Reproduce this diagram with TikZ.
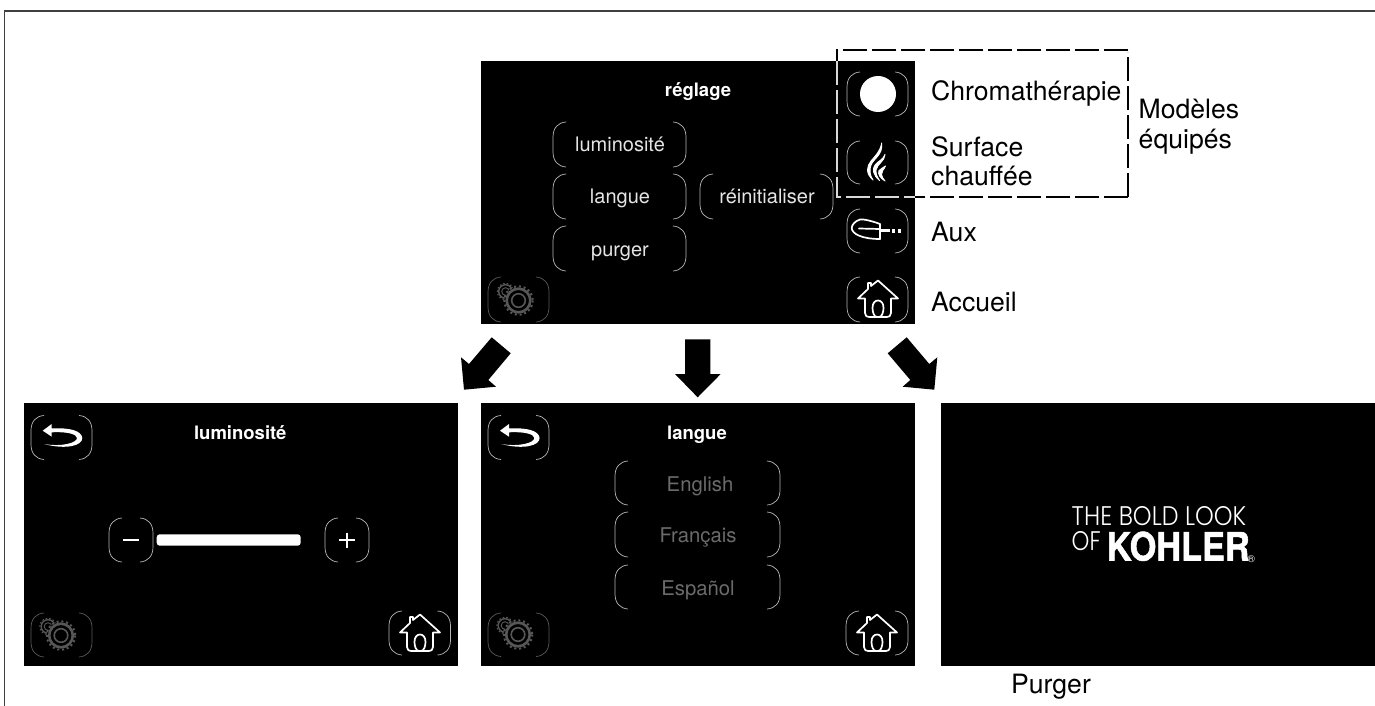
\documentclass[tikz,border=0pt]{standalone}
\usepackage{fontspec}
\setmainfont{TeX Gyre Heros}
\newfontfamily\thinf{Poppins Light}
\tikzset{
  panel/.style={fill=black,draw=none},
  lbl/.style={inner sep=0pt,anchor=base west,font=\fontsize{26.6}{30}\selectfont,text=black},
  ttl/.style={inner sep=0pt,anchor=base,text=white,font=\fontsize{18.5}{22}\selectfont\bfseries},
  btxt/.style={inner sep=0pt,anchor=base,text=white!90!black,font=\fontsize{20}{24}\selectfont},
  gtxt/.style={inner sep=0pt,anchor=base,text=white!42!black,font=\fontsize{20.3}{24}\selectfont},
  bigarrow/.style={fill=black,draw=none},
  icon/.style={draw=white,line width=1.7pt,line join=round,line cap=round},
  dashk/.style={line width=2.2pt,black,dash pattern=on 24pt off 5pt},
  dashw/.style={line width=1.2pt,white!85!black,dash pattern=on 24pt off 5pt},
  logo/.style={inner sep=0pt,anchor=base west,text=white},
}
\newcommand{\brk}[5][white!72!black]{%
  \draw[#1,line width=.7pt] (#2+13,#3) .. controls (#2+5,#3+.5) and (#2,#3+6) .. (#2,#3+15) -- (#2,#5-15) .. controls (#2,#5-6) and (#2+5,#5-.5) .. (#2+13,#5);
  \draw[#1,line width=.7pt] (#4-13,#3) .. controls (#4-5,#3+.5) and (#4,#3+6) .. (#4,#3+15) -- (#4,#5-15) .. controls (#4,#5-6) and (#4-5,#5-.5) .. (#4-13,#5);
}
\newcommand{\house}[2]{%
  \begin{scope}[shift={(#1,#2)}]
  \draw[icon] (-7,-14) -- (-7,-17) -- (-10,-17) -- (-10,-11) -- (-20,-1.5) -- (-13,-1.5) -- (-13,13) .. controls (-13,16) and (-11,17) .. (-9,17) -- (1,17) .. controls (4,17) and (5.5,12) .. (5.5,8) .. controls (5.5,3) and (3,.5) .. (0,.5) .. controls (-3,.5) and (-5.5,3) .. (-5.5,8) .. controls (-5.5,12) and (-4,17) .. (-1,17) -- (9,17) .. controls (11,17) and (13,16) .. (13,13) -- (13,-1.5) -- (20,-1.5) -- (0,-19.5) -- (-7,-14);
  \end{scope}}
\newcommand{\gear}[2]{%
  \begin{scope}[shift={(#1,#2)}]
  \draw[white!34!black,line width=1.4pt] (-13,-9) circle (6.8);
  \draw[white!34!black,line width=1pt,dash pattern=on 1.6pt off 2pt] (-13,-9) circle (8.2);
  \draw[white!34!black,line width=.9pt] (-13,-9) circle (3.8);
  \fill[black] (0,0) circle (14);
  \draw[white!34!black,line width=2pt,dash pattern=on 2pt off 2.8pt] (0,0) circle (14.2);
  \draw[white!34!black,line width=2.6pt] (0,0) circle (11.8);
  \draw[white!34!black,line width=1.6pt] (0,0) circle (6.8);
  \end{scope}}
\newcommand{\backarrow}[2]{%
  \begin{scope}[shift={(#1,#2)}]
  \fill[white] (-18.8,-6.8) -- (-9.8,-13.5) -- (-9.8,-9) .. controls (8,-10) and (20,-7) .. (20.8,.5) .. controls (21,8) and (5,12.5) .. (-17.5,6.5) .. controls (0,9.5) and (15.5,5.5) .. (15.5,.5) .. controls (15.5,-3.5) and (5,-6) .. (-9.8,-5.2) -- (-9.8,-.8) -- cycle;
  \end{scope}}
\begin{document}
\begin{tikzpicture}[x=1pt,y=-1pt]
\useasboundingbox (0,0) rectangle (1375,706);
\fill[white] (0,0) rectangle (1375,706);
\draw[line width=1.7pt,black!75] (4.5,706) -- (4.5,11) -- (1375,11);
% panels
\fill[panel] (481,61) rectangle (915,324);
\fill[panel] (24,403) rectangle (458,665.5);
\fill[panel] (481,403) rectangle (915,665.5);
\fill[panel] (941,403) rectangle (1375,665.5);
% top panel
\node[ttl] (t1) at (698,97) {réglage};
\brk{553}{122}{686}{167}
\brk{553}{174}{686}{219}
\brk{553}{226}{686}{271}
\brk{700}{174}{833}{219}
\node[btxt] (b1) at (620,151.5) {luminosité};
\node[btxt] (b2) at (620,203) {langue};
\node[btxt] (b3) at (620,256) {purger};
\node[btxt] (b4) at (767,203) {réinitialiser};
\brk{847}{72}{908}{116}
\brk{847}{141}{908}{184}
\brk{847}{209}{908}{253}
\brk{847}{277}{908}{322}
\brk[white!35!black]{488}{277}{549}{322}
\fill[white] (878,94) circle (18);
% flame
\begin{scope}[shift={(878,164)},line join=round]
\filldraw[white,line width=.9pt] (3.7,-21) .. controls (5,-9) and (-4,-6) .. (-7,1) .. controls (-9,6) and (-8,12) .. (-5,16) .. controls (-13,9) and (-11,2) .. (-7,-3) .. controls (-3,-8) and (2,-12) .. (3.7,-21) -- cycle;
\filldraw[white,line width=.9pt] (7,-9.5) .. controls (7,-3) and (-1,0) .. (-2,6) .. controls (-2.5,10) and (-.5,13) .. (1.5,16.5) .. controls (-5,11) and (-6,5) .. (-3,1) .. controls (0,-3) and (5,-4) .. (7,-9.5) -- cycle;
\filldraw[white,line width=.9pt] (7.5,2) .. controls (6,6) and (3,7) .. (3.5,10.5) .. controls (4,13) and (5,15) .. (7,17) .. controls (2,14) and (-.5,10) .. (1,6.5) .. controls (2.5,4) and (6,4) .. (7.5,2) -- cycle;
\end{scope}
% aux
\draw[icon] (880,224) .. controls (872,221) and (864,219) .. (860,219.5) .. controls (855,221) and (851.7,225) .. (851.7,228) .. controls (852,234) and (862,239) .. (880,239) -- cycle (859,228.5) -- (880,229);
\fill[white] (880,229.2) rectangle (890,232.2);
\fill[white] (891.5,229) rectangle (895,232.5);
\fill[white] (897.5,229) rectangle (901,232.5);
\house{878}{300}
\gear{518.5}{300.5}
% dashed box
\draw[dashk] (1128.3,50) -- (837,50) -- (837,61);
\draw[dashw] (837,61) -- (837,197) -- (915,197);
\draw[dashk] (1128.3,197) -- (915,197);
\draw[dashk] (1128.3,197) -- (1128.3,52);
% labels
\node[lbl] (l1) at (931,101) {Chromathérapie};
\node[lbl] (l2) at (931,156) {Surface};
\node[lbl] (l3) at (931,185) {chauffée};
\node[lbl] (l4) at (931,241.5) {Aux};
\node[lbl] (l5) at (931,311.5) {Accueil};
\node[lbl] (l6) at (1138.5,119) {Modèles};
\node[lbl] (l7) at (1138.5,148) {équipés};
\node[lbl,anchor=base] (l8) at (1051,693) {Purger};
% arrows
\fill[bigarrow] (491.7,337.3) -- (510.7,353.3) -- (488.3,380) -- (496,386.7) -- (464,389.7) -- (461,357.3) -- (469,364) -- cycle;
\fill[bigarrow] (685,339.3) -- (710.3,339.3) -- (710.3,374) -- (720.7,374) -- (697.7,397.3) -- (675,374) -- (685,374) -- cycle;
\fill[bigarrow] (906.7,337.3) -- (887.7,353.3) -- (910.3,380) -- (902.7,386.7) -- (934.3,389.7) -- (937.3,357.3) -- (929.3,364) -- cycle;
% left panel
\brk{31}{415.5}{92}{459.5}
\backarrow{61.5}{437.5}
\node[ttl] (t2) at (240.3,439) {luminosité};
\brk{109}{518}{153}{562}
\brk{325}{518}{369}{562}
\draw[white,line width=1.6pt] (123,540) -- (139,540);
\draw[white,line width=1.6pt] (339,540) -- (354.5,540) (346.7,532.5) -- (346.7,548);
\fill[white,rounded corners=3pt] (156.7,534.3) rectangle (300.7,545.7);
\brk[white!35!black]{31}{613}{92}{657}
\gear{61}{635.5}
\brk{389}{611}{450.5}{655}
\house{420}{634}
% middle panel
\brk{488}{415.5}{549}{459.5}
\backarrow{518.8}{437.5}
\node[ttl] (t3) at (697,439) {langue};
\brk{615}{461}{780}{505}
\brk{615}{512}{780}{557}
\brk{615}{565}{780}{609}
\node[gtxt] (g1) at (700,491) {English};
\node[gtxt] (g2) at (698,542) {Français};
\node[gtxt] (g3) at (698,595) {Español};
\brk[white!35!black]{488}{613}{549}{656.5}
\gear{518}{634.5}
\brk{846}{611}{908}{655}
\house{877}{634}
% right panel logo
\node[logo] (k1) at (1071.5,525.5) {\resizebox{174.5pt}{19pt}{\thinf THE BOLD LOOK}};
\node[logo] (k2) at (1071.5,550.5) {\resizebox{29pt}{19pt}{\thinf OF}};
\node[logo] (k3) at (1106.5,560.5) {\scalebox{.88}[1]{\fontsize{39}{42}\selectfont\addfontfeatures{FakeBold=1.5}\bfseries KOHLER}};
\node[logo,font=\fontsize{10}{12}\selectfont] (k4) at (1247.5,562.5) {®};
\end{tikzpicture}
\end{document}
